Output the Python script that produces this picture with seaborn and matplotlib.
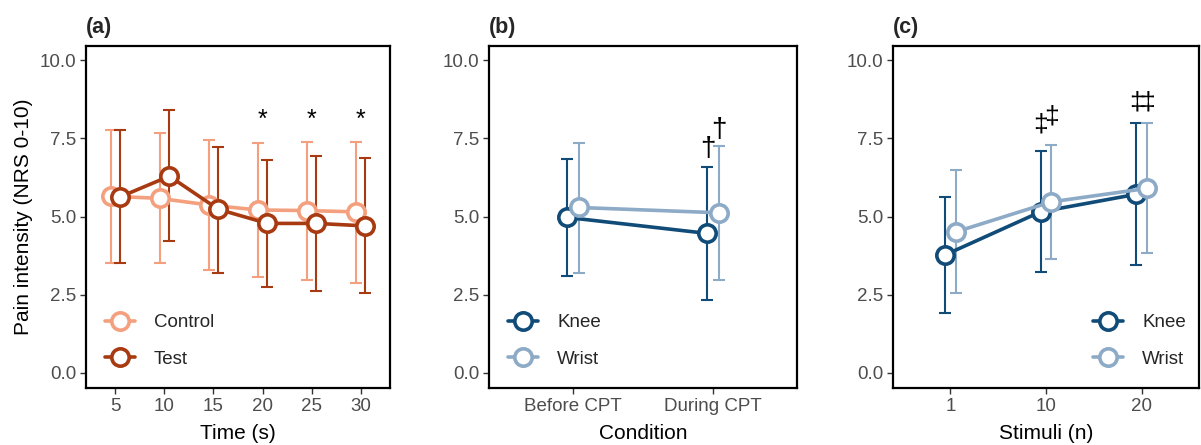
import matplotlib
matplotlib.use("Agg")
import matplotlib.pyplot as plt
import seaborn as sns
import pandas as pd
from matplotlib.lines import Line2D

# ---------------- data ----------------
time_labels = ["5", "10", "15", "20", "25", "30"]
ab_groups = ["Control", "Test"]
control_mean = [5.65, 5.58, 5.37, 5.21, 5.19, 5.15]
control_upper = [7.76, 7.66, 7.44, 7.36, 7.38, 7.38]
control_lower = [3.50, 3.50, 3.29, 3.08, 2.97, 2.89]
test_mean = [5.63, 6.29, 5.23, 4.78, 4.78, 4.70]
test_upper = [7.76, 8.40, 7.23, 6.81, 6.93, 6.88]
test_lower = [3.52, 4.23, 3.21, 2.76, 2.63, 2.55]
star_labels = ["20", "25", "30"]
star_y = 8.1

cond_labels = ["Before CPT", "During CPT"]
site_groups = ["Knee", "Wrist"]
cond_knee_mean = [4.97, 4.46]
cond_knee_upper = [6.85, 6.59]
cond_knee_lower = [3.10, 2.33]
cond_wrist_mean = [5.29, 5.12]
cond_wrist_upper = [7.36, 7.25]
cond_wrist_lower = [3.20, 2.97]
dagger_knee_y = [None, 7.16]
dagger_wrist_y = [None, 7.77]

stim_labels = ["1", "10", "20"]
stim_knee_mean = [3.77, 5.15, 5.71]
stim_knee_upper = [5.63, 7.10, 8.00]
stim_knee_lower = [1.93, 3.23, 3.45]
stim_wrist_mean = [4.51, 5.47, 5.90]
stim_wrist_upper = [6.49, 7.28, 7.98]
stim_wrist_lower = [2.57, 3.63, 3.82]
ddagger_knee_y = [None, 7.95, 8.66]
ddagger_wrist_y = [None, 8.20, 8.66]

y_ticks = [0.0, 2.5, 5.0, 7.5, 10.0]

# ---------------- style ----------------
sns.set_theme(style="white")
plt.rcParams['font.family'] = ['Liberation Sans', 'DejaVu Sans']

orange_pal = ["#F4A07E", "#A83A12"]
blue_pal = ["#114B78", "#8DAAC6"]
tick_col = "#4D4D4D"
MS = 12.5
LW = 2.6

fig = plt.figure(figsize=(12.01, 4.45), dpi=100)
axes = [fig.add_axes([86/1201, 1-388/445, 304/1201, 342/445]),
        fig.add_axes([489/1201, 1-388/445, 308/1201, 342/445]),
        fig.add_axes([893/1201, 1-388/445, 306/1201, 342/445])]


def draw_panel(ax, cats, groups, means, lowers, uppers, palette, dodge):
    rows = []
    for g, m in zip(groups, means):
        for c, v in zip(cats, m):
            rows.append({"x": c, "y": v, "group": g})
    df = pd.DataFrame(rows)
    sns.pointplot(data=df, x="x", y="y", hue="group", order=cats,
                  hue_order=groups, palette=palette, dodge=dodge,
                  errorbar=None, markers="o", markersize=MS, linewidth=LW,
                  legend=False, ax=ax)
    xs_all = []
    for i, (line, g) in enumerate(zip(ax.lines, groups)):
        col = palette[i]
        line.set_markerfacecolor("white")
        line.set_markeredgecolor(col)
        line.set_markeredgewidth(LW)
        line.set_markersize(MS)
        line.set_linewidth(LW)
        line.set_zorder(4 + i)
        xs = list(line.get_xdata())
        xs_all.append(xs)
        m = means[i]
        lo = [a - b for a, b in zip(m, lowers[i])]
        up = [b - a for a, b in zip(m, uppers[i])]
        ax.errorbar(xs, m, yerr=[lo, up], fmt="none", ecolor=col,
                    elinewidth=1.5, capsize=4.5, capthick=1.5, zorder=2)
    return xs_all


def style_axes(ax, ncat, xlabel, letter):
    ax.set_ylim(-0.48, 10.45)
    ax.set_xlim(-0.6, ncat - 1 + 0.6)
    ax.set_yticks(y_ticks)
    ax.set_yticklabels([f"{v:.1f}" for v in y_ticks])
    ax.tick_params(axis="both", which="both", direction="out", length=4,
                   width=1, color="#333333", labelcolor=tick_col,
                   labelsize=13.5, left=True, bottom=True, pad=3)
    for sp in ax.spines.values():
        sp.set_color("black")
        sp.set_linewidth(1.6)
    ax.set_xlabel(xlabel, fontsize=15, color="black", labelpad=7)
    ax.set_ylabel("")
    ax.text(0.0, 1.055, letter, transform=ax.transAxes, fontsize=15.5,
            fontweight="bold", ha="left", va="center")


def add_legend(ax, groups, palette, loc, anchor):
    handles = [Line2D([], [], color=c, marker="o", markersize=MS,
                      markerfacecolor="white", markeredgecolor=c,
                      markeredgewidth=LW, linewidth=LW) for c in palette]
    ax.legend(handles, groups, loc=loc, bbox_to_anchor=anchor, frameon=False,
              fontsize=13.5, handlelength=1.6, handletextpad=1.0,
              labelspacing=1.05, borderaxespad=0.3)


# (a)
ax = axes[0]
draw_panel(ax, time_labels, ab_groups, [control_mean, test_mean],
           [control_lower, test_lower], [control_upper, test_upper],
           orange_pal, 0.2)
for lab in star_labels:
    ax.text(time_labels.index(lab), star_y, "*", fontsize=18, ha="center",
            va="center", color="black")
style_axes(ax, len(time_labels), "Time (s)", "(a)")
ax.set_ylabel("Pain intensity (NRS 0-10)", fontsize=15, color="black",
              labelpad=5)
add_legend(ax, ab_groups, orange_pal, "lower left", (0.02, 0.02))

# (b)
ax = axes[1]
xs = draw_panel(ax, cond_labels, site_groups,
                [cond_knee_mean, cond_wrist_mean],
                [cond_knee_lower, cond_wrist_lower],
                [cond_knee_upper, cond_wrist_upper], blue_pal, 0.08)
for gi, ys in enumerate([dagger_knee_y, dagger_wrist_y]):
    for xi, yv in enumerate(ys):
        if yv is not None:
            ax.text(xs[gi][xi], yv, "\u2020", fontsize=20, ha="center",
                    va="center", color="black")
style_axes(ax, len(cond_labels), "Condition", "(b)")
add_legend(ax, site_groups, blue_pal, "lower left", (0.02, 0.02))

# (c)
ax = axes[2]
xs = draw_panel(ax, stim_labels, site_groups,
                [stim_knee_mean, stim_wrist_mean],
                [stim_knee_lower, stim_wrist_lower],
                [stim_knee_upper, stim_wrist_upper], blue_pal, 0.115)
for gi, ys in enumerate([ddagger_knee_y, ddagger_wrist_y]):
    for xi, yv in enumerate(ys):
        if yv is not None:
            ax.text(xs[gi][xi], yv, "\u2021", fontsize=19, ha="center",
                    va="center", color="black")
style_axes(ax, len(stim_labels), "Stimuli (n)", "(c)")
add_legend(ax, site_groups, blue_pal, "lower right", (1.0, 0.02))

fig.savefig("out.png", dpi=100)
